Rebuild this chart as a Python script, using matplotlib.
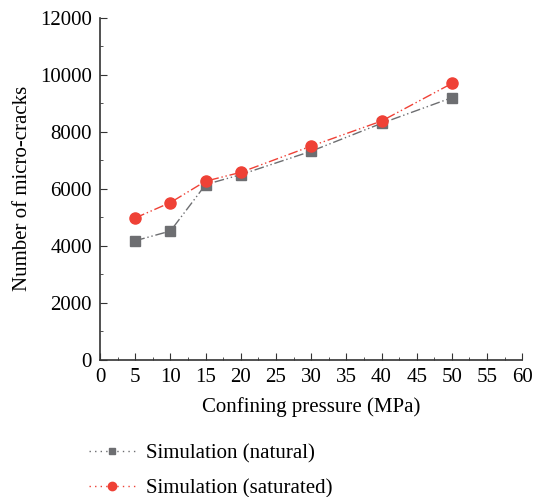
import matplotlib
matplotlib.use("Agg")
import matplotlib.pyplot as plt
from matplotlib.ticker import MultipleLocator
from matplotlib.lines import Line2D

pressao = [5, 10, 15, 20, 30, 40, 50]
natural = [4180, 4520, 6150, 6500, 7320, 8300, 9200]
saturado = [4980, 5520, 6270, 6580, 7500, 8380, 9700]

plt.rcParams['font.family'] = ['Liberation Serif', 'DejaVu Serif']

fig = plt.figure(figsize=(5.44, 4.97), dpi=100)
ax = fig.add_axes([0.184, 0.276, 0.776, 0.688])

estilo = (0, (7, 2, 1, 2, 1, 2))
cinza = '#6d6e71'
vermelho = '#ef4136'

ax.plot(pressao, natural, color=cinza, linestyle=estilo, linewidth=1,
        marker='s', markersize=7)
ax.plot(pressao, saturado, color=vermelho, linestyle=estilo, linewidth=1,
        marker='o', markersize=8)

ax.set_xlim(0, 60)
ax.set_ylim(0, 12000)
ax.xaxis.set_major_locator(MultipleLocator(5))
ax.xaxis.set_minor_locator(MultipleLocator(2.5))
ax.yaxis.set_major_locator(MultipleLocator(2000))
ax.yaxis.set_minor_locator(MultipleLocator(1000))

for lado in ['top', 'right']:
    ax.spines[lado].set_visible(False)
for lado in ['left', 'bottom']:
    ax.spines[lado].set_color('#333333')
    ax.spines[lado].set_linewidth(1.2)

ax.tick_params(which='major', direction='in', length=5, labelsize=15,
               color='#333333', pad=6)
ax.tick_params(which='minor', direction='in', length=2.5, color='#333333')

ax.set_xlabel("Confining pressure (MPa)", fontsize=15, labelpad=7)
ax.set_ylabel("Number of micro-cracks", fontsize=15, labelpad=6)

alcas = [
    Line2D([], [], color=cinza, linestyle=(0, (1, 3)), linewidth=1,
           marker='s', markersize=5),
    Line2D([], [], color=vermelho, linestyle=(0, (1, 3)), linewidth=1,
           marker='o', markersize=6),
]
fig.legend(alcas, ['Simulation (natural)', 'Simulation (saturated)'],
           loc='upper left', bbox_to_anchor=(0.13, 0.145), frameon=False,
           fontsize=15, handlelength=2.2, handletextpad=0.5, labelspacing=0.75)

plt.savefig("out.png")
plt.close()
